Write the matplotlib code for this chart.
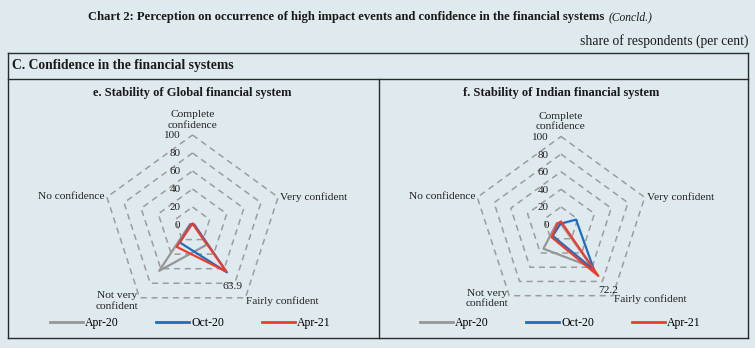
import matplotlib.pyplot as plt
import numpy as np

# Categories (clockwise from top) and series values, share of respondents (per cent)
categories = ['Complete\nconfidence', 'Very confident', 'Fairly confident',
              'Not very\nconfident', 'No confidence']
series_names = ['Apr-20', 'Oct-20', 'Apr-21']
series_colors = ['#969696', '#1b6ec2', '#ef3b2d']

global_apr20 = [1, 1, 27, 63, 3]
global_oct20 = [1, 2, 65, 24, 2]
global_apr21 = [1, 1, 63.9, 30, 1]

indian_apr20 = [0.5, 0.5, 60, 34, 5]
indian_oct20 = [1, 18, 64, 16, 1]
indian_apr21 = [3, 2, 72.2, 18, 4]

ring_values = [0, 20, 40, 60, 80, 100]

BG = '#dfeaef'
TXT = '#1a1a1a'
plt.rcParams['font.family'] = 'Liberation Serif'

fig = plt.figure(figsize=(7.55, 3.48), dpi=100, facecolor=BG)
W, H = 755, 348


def px(x, y):
    # pixel (from top-left) -> figure fraction
    return x / W, 1 - y / H


def radar(rect, title, data, annot_idx, annot_offset):
    ax = fig.add_axes(rect, projection='polar')
    ax.set_theta_offset(np.pi / 2)
    ax.set_theta_direction(-1)
    ax.set_ylim(0, 100)
    ax.set_xticks([])
    ax.set_yticks([])
    ax.grid(False)
    ax.spines['polar'].set_visible(False)
    ax.patch.set_alpha(0)

    n = len(categories)
    angles = np.linspace(0, 2 * np.pi, n, endpoint=False)
    closed = np.append(angles, angles[0])

    # dashed pentagon rings
    for r in ring_values[1:]:
        ax.plot(closed, [r] * (n + 1), color='#9c9c9c', lw=1.1,
                ls=(0, (4, 3)), clip_on=False, zorder=1)
    for r in ring_values:
        ax.annotate(str(r), xy=(0, r), xytext=(-12, -1), textcoords='offset pixels',
                    ha='right', va='center', fontsize=8, color='#222222')

    # series
    for vals, color in zip(data, series_colors):
        v = np.append(vals, vals[0])
        ax.plot(closed, v, color=color, lw=1.6, clip_on=False, zorder=3)

    # category labels
    offsets = [((0, 15), 'center', 'center'), ((2, 0), 'left', 'center'),
               ((1, -3), 'left', 'center'), ((-1, -3), 'right', 'center'),
               ((-2, 1), 'right', 'center')]
    for ang, lab, (off, ha, va) in zip(angles, categories, offsets):
        ax.annotate(lab, xy=(ang, 100), xytext=off, textcoords='offset pixels',
                    ha=ha, va=va, fontsize=8.2, color='#222222',
                    multialignment='center', linespacing=1.2)

    # data label for Apr-21 fairly confident
    val = data[2][annot_idx]
    ax.annotate(f'{val}', xy=(angles[annot_idx], val), xytext=annot_offset,
                textcoords='offset pixels', ha='center', va='center',
                fontsize=8.2, color='#222222')

    cx = (rect[0] + rect[2] / 2)
    fig.text(cx, 1 - 93 / H, title, ha='center', va='center',
             fontsize=9, fontweight='bold', color=TXT)
    return ax


R1, C1 = 90, (192.5, 225)
R2, C2 = 88, (561, 224.5)
rect1 = [(C1[0] - R1) / W, 1 - (C1[1] + R1) / H, 2 * R1 / W, 2 * R1 / H]
rect2 = [(C2[0] - R2) / W, 1 - (C2[1] + R2) / H, 2 * R2 / W, 2 * R2 / H]

ax1 = radar(rect1, 'e. Stability of Global financial system',
            [global_apr20, global_oct20, global_apr21], 2, (6, -15))
ax2 = radar(rect2, 'f. Stability of Indian financial system',
            [indian_apr20, indian_oct20, indian_apr21], 2, (10, -15))

# legends
for ax, lx in [(ax1, 190), (ax2, 560)]:
    handles = [plt.Line2D([], [], color=c, lw=2) for c in series_colors]
    fig.legend(handles, series_names, loc='center', bbox_to_anchor=px(lx, 323),
               ncol=3, frameon=False, fontsize=8.5, handlelength=2.8,
               handletextpad=0.15, columnspacing=3.2)

# titles
t1 = fig.text(*px(88, 17), 'Chart 2: Perception on occurrence of high impact events '
              'and confidence in the financial systems', ha='left', va='center',
              fontsize=9.1, fontweight='bold', color=TXT)
fig.canvas.draw()
bb = t1.get_window_extent()
fig.text((bb.x1 + 4) / W, 1 - 17 / H, '(Concld.)', ha='left', va='center',
         fontsize=8.3, style='italic', color=TXT)
fig.text(*px(748, 41), 'share of respondents (per cent)', ha='right', va='center',
         fontsize=9.8, color=TXT)
fig.text(*px(12, 66), 'C. Confidence in the financial systems', ha='left', va='center',
         fontsize=9.8, fontweight='bold', color=TXT)

# box lines
lc = '#2a2a2a'
for y in (53, 79, 338):
    fig.add_artist(plt.Line2D([8 / W, 748 / W], [1 - y / H] * 2, color=lc, lw=1.0))
for x, y0 in ((8, 53), (748, 53), (379, 79)):
    fig.add_artist(plt.Line2D([x / W] * 2, [1 - y0 / H, 1 - 338 / H], color=lc, lw=1.0))

fig.savefig('out.png', dpi=100, facecolor=BG)
